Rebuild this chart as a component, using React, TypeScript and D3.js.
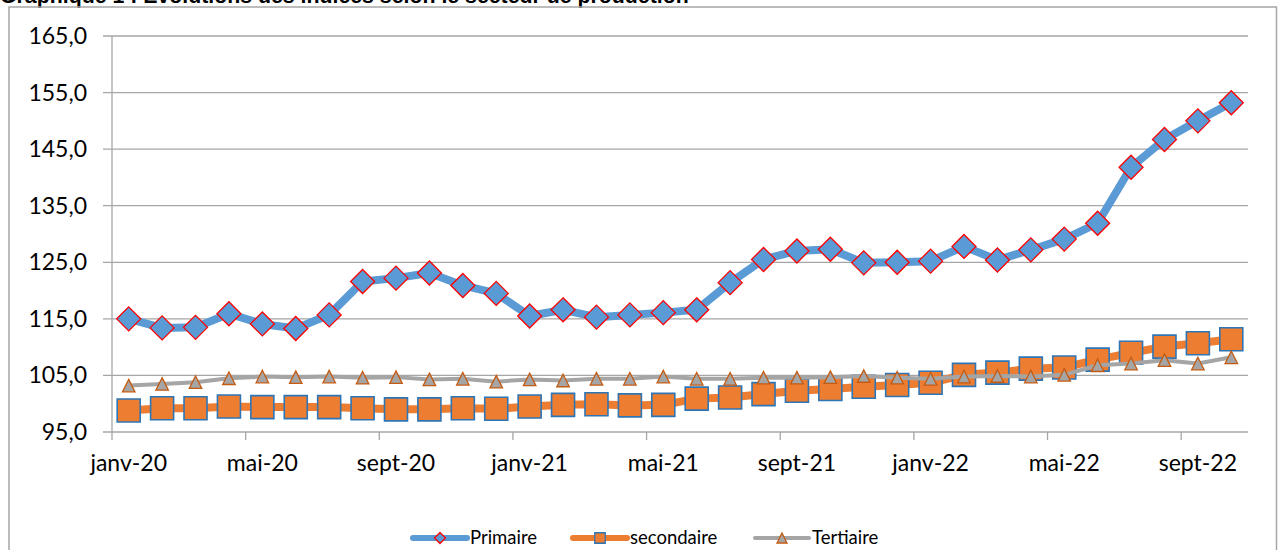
import React from "react";
import * as d3 from "d3";

const months = [
  "janv-20","févr-20","mars-20","avr-20","mai-20","juin-20","juil-20","août-20","sept-20","oct-20","nov-20","déc-20",
  "janv-21","févr-21","mars-21","avr-21","mai-21","juin-21","juil-21","août-21","sept-21","oct-21","nov-21","déc-21",
  "janv-22","févr-22","mars-22","avr-22","mai-22","juin-22","juil-22","août-22","sept-22","oct-22",
];

const primaire = [
  115.0, 113.4, 113.5, 115.9, 114.1, 113.3, 115.7, 121.6, 122.2, 123.1, 120.9, 119.5,
  115.5, 116.6, 115.3, 115.7, 116.1, 116.6, 121.4, 125.5, 127.0, 127.3, 124.9, 125.0,
  125.2, 127.8, 125.4, 127.2, 129.1, 131.9, 141.8, 146.7, 150.0, 153.2,
];

const secondaire = [
  98.8, 99.2, 99.2, 99.5, 99.4, 99.4, 99.4, 99.2, 99.0, 99.0, 99.2, 99.1,
  99.5, 99.8, 99.9, 99.7, 99.8, 100.9, 101.1, 101.7, 102.3, 102.6, 103.0, 103.3,
  103.7, 105.1, 105.5, 106.2, 106.4, 107.8, 109.0, 110.1, 110.7, 111.4,
];

const tertiaire = [
  103.2, 103.5, 103.8, 104.5, 104.8, 104.7, 104.8, 104.6, 104.7, 104.3, 104.4, 103.9,
  104.3, 104.1, 104.4, 104.4, 104.8, 104.4, 104.4, 104.6, 104.6, 104.7, 104.9, 104.6,
  104.4, 104.8, 104.9, 104.8, 105.1, 106.8, 107.1, 107.7, 107.1, 108.2,
];

const yTicks = [95, 105, 115, 125, 135, 145, 155, 165];
const xTickLabels = ["janv-20","mai-20","sept-20","janv-21","mai-21","sept-21","janv-22","mai-22","sept-22"];
const seriesNames = ["Primaire", "secondaire", "Tertiaire"];
const title = "Graphique 1 : Evolutions des indices selon le secteur de production";

const W = 1281, H = 550;
const left = 112, right = 1248, top = 36, bottom = 432;
const GRID = "#a6a6a6";
const AXIS_FONT = "Lato, 'Open Sans', sans-serif";

const diamond = (r: number) => `M0,${-r}L${r},0L0,${r}L${-r},0Z`;
const square = (s: number) => `M${-s / 2},${-s / 2}h${s}v${s}h${-s}Z`;
const triangle = (s: number) => `M0,${-s / 2}L${s / 2},${s / 2}L${-s / 2},${s / 2}Z`;

export default function App() {
  const x = d3.scaleBand<string>().domain(months).range([left, right]).paddingInner(0).paddingOuter(0);
  const y = d3.scaleLinear().domain([95, 165]).range([bottom, top]);
  const cx = (m: string) => (x(m) as number) + x.bandwidth() / 2;
  const fmt = (v: number) => v.toFixed(1).replace(".", ",");

  const line = (vals: number[]) =>
    d3.line<number>().x((_, i) => cx(months[i])).y((v) => y(v))(vals) as string;

  const series = [
    { name: seriesNames[0], vals: primaire, color: "#5b9bd5", lw: 8, marker: diamond(12), mfill: "#5b9bd5", mstroke: "#ff0000", msw: 1.3, lmarker: diamond(5.5), llw: 6 },
    { name: seriesNames[1], vals: secondaire, color: "#ed7d31", lw: 8, marker: square(23), mfill: "#ed7d31", mstroke: "#2e75b6", msw: 1.6, lmarker: square(10.5), llw: 6 },
    { name: seriesNames[2], vals: tertiaire, color: "#a5a5a5", lw: 4, marker: triangle(12.5), mfill: "#a5a5a5", mstroke: "#c55a11", msw: 1.3, lmarker: triangle(10), llw: 4 },
  ];

  const tickIdx = months.map((_, i) => i).filter((i) => i % 4 === 0);
  const legendX = [413, 573, 755];
  const legendY = 538;

  return (
    <svg width={W} height={H} style={{ position: "absolute", left: 0, top: 0, background: "#fff" }}>
      <rect x={0} y={0} width={W} height={H} fill="#fff" />
      <text x={0} y={2.5} fontFamily="'Liberation Sans', Arial, sans-serif" fontWeight="bold" fontSize={21.3} fill="#000">
        {title}
      </text>
      <rect x={9} y={7} width={1267.5} height={560} fill="none" stroke={GRID} strokeWidth={1.5} />

      {yTicks.map((t) => (
        <g key={t}>
          <line x1={left - 9} x2={right} y1={y(t)} y2={y(t)} stroke={GRID} strokeWidth={1.3} />
          <text x={87} y={y(t)} dy="0.35em" textAnchor="end" fontFamily={AXIS_FONT} fontSize={23} fill="#000">
            {fmt(t)}
          </text>
        </g>
      ))}
      <line x1={left} x2={left} y1={top} y2={bottom} stroke={GRID} strokeWidth={1.3} />
      {tickIdx.map((i) => (
        <line key={i} x1={x(months[i]) as number} x2={x(months[i]) as number} y1={bottom} y2={bottom + 8} stroke={GRID} strokeWidth={1.3} />
      ))}
      {xTickLabels.map((lab) => (
        <text key={lab} x={cx(lab)} y={471} textAnchor="middle" fontFamily={AXIS_FONT} fontSize={23} fill="#000">
          {lab}
        </text>
      ))}

      {series.map((s) => (
        <g key={s.name}>
          <path d={line(s.vals)} fill="none" stroke={s.color} strokeWidth={s.lw} strokeLinejoin="round" strokeLinecap="round" />
          {s.vals.map((v, i) => (
            <path key={i} d={s.marker} transform={`translate(${cx(months[i])},${y(v)})`} fill={s.mfill} stroke={s.mstroke} strokeWidth={s.msw} />
          ))}
        </g>
      ))}

      {series.map((s, k) => (
        <g key={s.name} transform={`translate(${legendX[k]},${legendY})`}>
          <line x1={0} x2={54} y1={0} y2={0} stroke={s.color} strokeWidth={s.llw} strokeLinecap="round" />
          <path d={s.lmarker} transform="translate(27,0)" fill={s.mfill} stroke={s.mstroke} strokeWidth={1.3} />
          <text x={57} y={0} dy="0.35em" fontFamily={AXIS_FONT} fontSize={18.5} fill="#000">
            {s.name}
          </text>
        </g>
      ))}
    </svg>
  );
}
